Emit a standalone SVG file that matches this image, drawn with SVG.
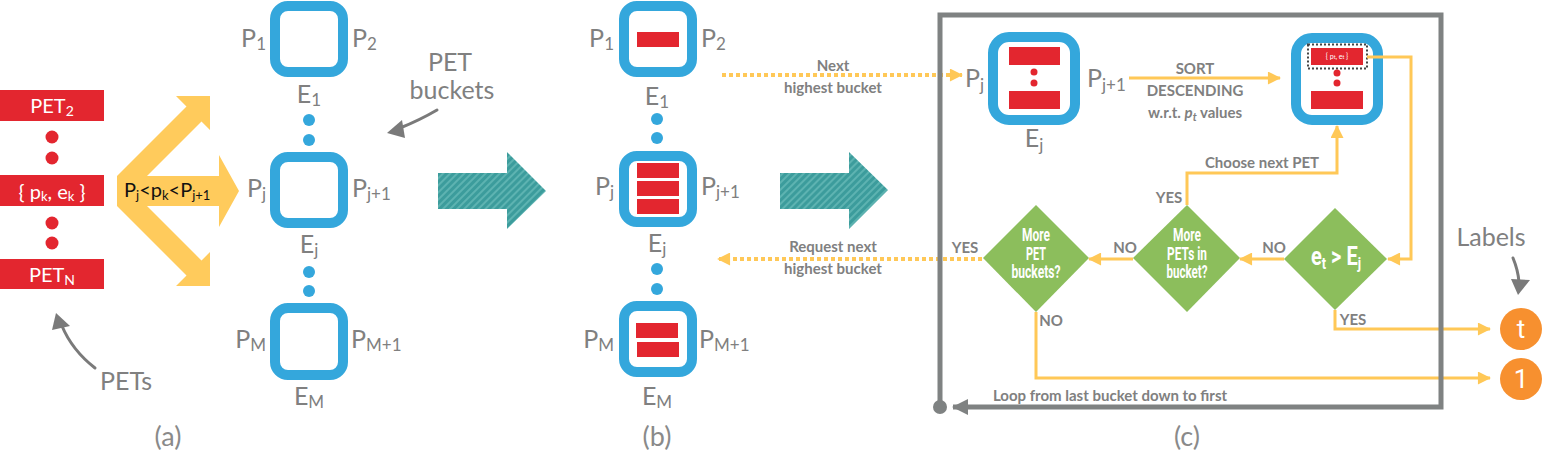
<svg xmlns="http://www.w3.org/2000/svg" width="1542" height="458" viewBox="0 0 1542 458">
<defs>
<style>
.lbl{font-family:Lato,"Noto Sans",sans-serif;fill:#808080;font-size:25px}
.sub{font-size:17px}
.box{fill:#fff;stroke:#34A7DC;stroke-width:10}
.red{fill:#E3262F}
.bdot{fill:#34A7DC}
.y{stroke:#FFC857;stroke-width:3;fill:none}
.yd{stroke:#FFC857;stroke-width:4;fill:none;stroke-dasharray:4 3}
.sm{font-family:Lato,"Noto Sans",sans-serif;fill:#808080;font-size:15px;font-weight:bold}
.dt{font-family:Roboto,sans-serif;fill:#fff;font-weight:bold;font-size:18px}
.dia{fill:#8CBE5C}
.wt{font-family:Lato,"Noto Sans",sans-serif;fill:#fff;font-size:20px}
.cap{font-family:Lato,"Noto Sans",sans-serif;fill:#8a8a8a;font-size:27px}
.sk{stroke:#7a7a7a;stroke-width:3;fill:none;stroke-linecap:round}
</style>
<pattern id="hatch" width="5" height="5" patternUnits="userSpaceOnUse" patternTransform="rotate(45)">
<rect width="5" height="5" fill="#3C9C9C"/><rect width="2" height="5" fill="#5DB3B1"/>
</pattern>
<marker id="ah" viewBox="0 0 14 14" refX="13" refY="7" markerWidth="14" markerHeight="13" markerUnits="userSpaceOnUse" orient="auto">
<path d="M0,0 L14,7 L0,14 z" fill="#FFC857"/>
</marker>
<marker id="gh" viewBox="0 0 16 16" refX="15" refY="8" markerWidth="16" markerHeight="16" markerUnits="userSpaceOnUse" orient="auto">
<path d="M0,0 L16,8 L0,16 z" fill="#7F8282"/>
</marker>
</defs>

<!-- (a) PETs -->
<g id="pets">
<rect class="red" x="0" y="90" width="104" height="31"/>
<text class="wt" x="52" y="113" text-anchor="middle">PET<tspan font-size="14" dy="3">2</tspan></text>
<circle class="red" cx="52" cy="137" r="6.5"/>
<circle class="red" cx="52" cy="158" r="6.5"/>
<rect class="red" x="0" y="175" width="104" height="31"/>
<text class="wt" x="52" y="199" text-anchor="middle" font-size="19">{ p<tspan font-size="13" dy="2">k</tspan><tspan dy="-2">, e</tspan><tspan font-size="13" dy="2">k</tspan><tspan dy="-2"> }</tspan></text>
<circle class="red" cx="52" cy="223" r="6.5"/>
<circle class="red" cx="52" cy="243" r="6.5"/>
<rect class="red" x="0" y="259" width="104" height="30"/>
<text class="wt" x="52" y="282" text-anchor="middle">PET<tspan font-size="14" dy="3">N</tspan></text>
</g>
<g id="pets-label">
<text class="lbl" x="100" y="390" font-size="21">PETs</text>
<path class="sk" d="M95,368 Q72,350 62,326"/>
<polygon points="56,313 70,326 52,330" fill="#7a7a7a"/>
</g>

<g id="sorter">
<polygon fill="#FFCB5C" points="117,176 186.5,106.5 176,96 210,96 210,130 201.5,121.5 147,176 219,176 219,155 239,191 219,227 219,206 147,206 201.5,260.5 210,252 210,286 176,286 186.5,275.5 117,206"/>
<text x="124" y="197" font-family="Lato,'Noto Sans',sans-serif" font-size="20" fill="#111">P<tspan font-size="13" dy="3">j</tspan><tspan dy="-3">&lt;p</tspan><tspan font-size="13" dy="3">k</tspan><tspan dy="-3">&lt;P</tspan><tspan font-size="13" dy="3">j+1</tspan></text>
</g>

<!-- (a) buckets -->
<g id="a-bucket-1">
<rect class="box" x="275" y="6" width="68" height="66" rx="13"/>
<text class="lbl" x="266" y="47" text-anchor="end">P<tspan class="sub" dy="3">1</tspan></text>
<text class="lbl" x="352" y="47">P<tspan class="sub" dy="3">2</tspan></text>
<text class="lbl" x="309" y="103" text-anchor="middle">E<tspan class="sub" dy="3">1</tspan></text>
</g>
<circle class="bdot" cx="309" cy="120" r="6"/>
<circle class="bdot" cx="309" cy="140" r="6"/>
<g id="a-bucket-j">
<rect class="box" x="275" y="157" width="68" height="66" rx="13"/>
<text class="lbl" x="266" y="197" text-anchor="end">P<tspan class="sub" dy="3">j</tspan></text>
<text class="lbl" x="352" y="197">P<tspan class="sub" dy="3">j+1</tspan></text>
<text class="lbl" x="309" y="253" text-anchor="middle">E<tspan class="sub" dy="3">j</tspan></text>
</g>
<circle class="bdot" cx="309" cy="272" r="6"/>
<circle class="bdot" cx="309" cy="291" r="6"/>
<g id="a-bucket-m">
<rect class="box" x="275" y="308" width="68" height="67" rx="13"/>
<text class="lbl" x="266" y="348" text-anchor="end">P<tspan class="sub" dy="3">M</tspan></text>
<text class="lbl" x="351" y="348">P<tspan class="sub" dy="3">M+1</tspan></text>
<text class="lbl" x="309" y="405" text-anchor="middle">E<tspan class="sub" dy="3">M</tspan></text>
</g>
<g id="pet-buckets-label">
<text class="lbl" x="450" y="71" text-anchor="middle" font-size="20">PET</text>
<text class="lbl" x="452" y="99" text-anchor="middle" font-size="20">buckets</text>
<path class="sk" d="M437,110 Q420,120 400,128"/>
<polygon points="387,133 402,120 405,138" fill="#7a7a7a"/>
</g>
<text class="cap" x="168" y="446" text-anchor="middle">(a)</text>

<g id="step-arrow-1"><polygon fill="url(#hatch)" points="438,173 507,173 507,152 546,191 507,229 507,209 438,209"/></g>

<!-- (b) buckets -->
<g id="b-bucket-1">
<rect class="box" x="624" y="6" width="68" height="66" rx="13"/>
<rect class="red" x="637" y="32" width="42" height="15"/>
<text class="lbl" x="614" y="47" text-anchor="end">P<tspan class="sub" dy="3">1</tspan></text>
<text class="lbl" x="701" y="47">P<tspan class="sub" dy="3">2</tspan></text>
<text class="lbl" x="657" y="105" text-anchor="middle">E<tspan class="sub" dy="3">1</tspan></text>
</g>
<circle class="bdot" cx="657" cy="119" r="6"/>
<circle class="bdot" cx="657" cy="138" r="6"/>
<g id="b-bucket-j">
<rect class="box" x="624" y="156" width="68" height="66" rx="13"/>
<rect class="red" x="637" y="163" width="42" height="15"/>
<rect class="red" x="637" y="181" width="42" height="15"/>
<rect class="red" x="637" y="199" width="42" height="15"/>
<text class="lbl" x="614" y="195" text-anchor="end">P<tspan class="sub" dy="3">j</tspan></text>
<text class="lbl" x="701" y="195">P<tspan class="sub" dy="3">j+1</tspan></text>
<text class="lbl" x="657" y="252" text-anchor="middle">E<tspan class="sub" dy="3">j</tspan></text>
</g>
<circle class="bdot" cx="657" cy="269" r="6"/>
<circle class="bdot" cx="657" cy="289" r="6"/>
<g id="b-bucket-m">
<rect class="box" x="624" y="306" width="68" height="66" rx="13"/>
<rect class="red" x="636" y="323" width="42" height="15"/>
<rect class="red" x="637" y="342" width="42" height="15"/>
<text class="lbl" x="614" y="348" text-anchor="end">P<tspan class="sub" dy="3">M</tspan></text>
<text class="lbl" x="699" y="348">P<tspan class="sub" dy="3">M+1</tspan></text>
<text class="lbl" x="657" y="405" text-anchor="middle">E<tspan class="sub" dy="3">M</tspan></text>
</g>
<text class="cap" x="657" y="446" text-anchor="middle">(b)</text>

<g id="step-arrow-2"><polygon fill="url(#hatch)" points="780,173 849,173 849,152 888,190 849,229 849,209 780,209"/></g>

<!-- (c) -->
<g id="c-bucket-j">
<rect class="box" x="993" y="37" width="82" height="83" rx="16"/>
<rect class="red" x="1009" y="47" width="51" height="18"/>
<circle class="red" cx="1034" cy="72" r="3.5"/>
<circle class="red" cx="1034" cy="83" r="3.5"/>
<rect class="red" x="1009" y="91" width="51" height="18"/>
<text class="lbl" x="965" y="87">P<tspan class="sub" dy="4">j</tspan></text>
<text class="lbl" x="1087" y="87">P<tspan class="sub" dy="4">j+1</tspan></text>
<text class="lbl" x="1034" y="147" text-anchor="middle">E<tspan class="sub" dy="4">j</tspan></text>
</g>
<g id="c-sorted">
<rect class="box" x="1296" y="38" width="82" height="82" rx="16"/>
<rect class="red" x="1311" y="48" width="52" height="17"/>
<rect x="1308" y="44.5" width="59" height="24" fill="none" stroke="#444" stroke-width="2" stroke-dasharray="2 2"/>
<text x="1337" y="59" text-anchor="middle" font-family="Lato,sans-serif" font-size="7" fill="#fff">{ p<tspan font-size="5">t</tspan>, e<tspan font-size="5">t</tspan> }</text>
<circle class="red" cx="1337" cy="73" r="3.5"/>
<circle class="red" cx="1337" cy="83" r="3.5"/>
<rect class="red" x="1311" y="91" width="52" height="18"/>
</g>
<g id="d-more-buckets">
<polygon class="dia" points="1036,205 1089,258 1036,312 983,258"/>
<text class="dt" x="1036" y="241" text-anchor="middle" textLength="28" lengthAdjust="spacingAndGlyphs">More</text>
<text class="dt" x="1036" y="260" text-anchor="middle" textLength="20" lengthAdjust="spacingAndGlyphs">PET</text>
<text class="dt" x="1036" y="278" text-anchor="middle" textLength="49" lengthAdjust="spacingAndGlyphs">buckets?</text>
</g>
<g id="d-more-pets">
<polygon class="dia" points="1187,205 1240,258 1187,312 1133,258"/>
<text class="dt" x="1187" y="241" text-anchor="middle" textLength="28" lengthAdjust="spacingAndGlyphs">More</text>
<text class="dt" x="1187" y="260" text-anchor="middle" textLength="40" lengthAdjust="spacingAndGlyphs">PETs in</text>
<text class="dt" x="1187" y="278" text-anchor="middle" textLength="41" lengthAdjust="spacingAndGlyphs">bucket?</text>
</g>
<g id="d-energy">
<polygon class="dia" points="1335,208 1387,259 1335,310 1284,259"/>
<text x="1336" y="265" text-anchor="middle" font-family="Roboto,sans-serif" font-weight="bold" font-size="25" fill="#fff" transform="translate(1336,0) scale(0.8,1) translate(-1336,0)">e<tspan font-size="16" dy="4">t</tspan><tspan dy="-4"> &gt; E</tspan><tspan font-size="16" dy="4">j</tspan></text>
</g>
<g id="label-t">
<circle cx="1521" cy="329" r="21" fill="#F7902F"/>
<text x="1521" y="338" text-anchor="middle" font-family="Roboto,sans-serif" font-size="26" fill="#fff">t</text>
</g>
<g id="label-1">
<circle cx="1521" cy="379" r="21" fill="#F7902F"/>
<text x="1521" y="388" text-anchor="middle" font-family="Roboto,sans-serif" font-size="26" fill="#fff">1</text>
</g>
<g id="labels-label">
<text class="lbl" x="1491" y="246" text-anchor="middle" font-size="21">Labels</text>
<path class="sk" d="M1513,258 Q1518,270 1519,282"/>
<polygon points="1518,295 1511,279 1530,280" fill="#7a7a7a"/>
</g>

<g id="connectors">
<path class="yd" d="M722,75 H962" marker-end="url(#ah)"/>
<path class="yd" d="M982,259 H718" marker-end="url(#ah)"/>
<path class="y" d="M1129,78 H1280" marker-end="url(#ah)"/>
<path class="y" d="M1367,57 H1411 V259 H1388" marker-end="url(#ah)"/>
<path class="y" d="M1284,259 H1240" marker-end="url(#ah)"/>
<path class="y" d="M1133,259 H1089" marker-end="url(#ah)"/>
<path class="y" d="M1187,205 V173 H1337 V126" marker-end="url(#ah)"/>
<path class="y" d="M1036,312 V378 H1490" marker-end="url(#ah)"/>
<path class="y" d="M1335,310 V329 H1490" marker-end="url(#ah)"/>
<path d="M940,407 V15 H1441 V407 H953" fill="none" stroke="#7F8282" stroke-width="5" marker-end="url(#gh)"/>
<circle cx="940" cy="407" r="7" fill="#7F8282"/>
</g>

<g id="connector-labels">
<text class="sm" x="833" y="71" text-anchor="middle">Next</text>
<text class="sm" x="833" y="93" text-anchor="middle">highest bucket</text>
<text class="sm" x="833" y="252" text-anchor="middle">Request next</text>
<text class="sm" x="833" y="274" text-anchor="middle">highest bucket</text>
<text class="sm" x="1195" y="74" text-anchor="middle">SORT</text>
<text class="sm" x="1195" y="96" text-anchor="middle">DESCENDING</text>
<text class="sm" x="1195" y="118" text-anchor="middle">w.r.t. <tspan font-style="italic">p</tspan><tspan font-style="italic" font-size="11" dy="3">t</tspan><tspan dy="-3"> values</tspan></text>
<text class="sm" x="1262" y="168" text-anchor="middle">Choose next PET</text>
<text class="sm" x="1169" y="203" text-anchor="middle">YES</text>
<text class="sm" x="965" y="253" text-anchor="middle">YES</text>
<text class="sm" x="1125" y="253" text-anchor="middle">NO</text>
<text class="sm" x="1274" y="253" text-anchor="middle">NO</text>
<text class="sm" x="1051" y="326" text-anchor="middle">NO</text>
<text class="sm" x="1353" y="325" text-anchor="middle">YES</text>
<text class="sm" x="1110" y="401" text-anchor="middle">Loop from last bucket down to first</text>
</g>
<text class="cap" x="1187" y="446" text-anchor="middle">(c)</text>
</svg>
